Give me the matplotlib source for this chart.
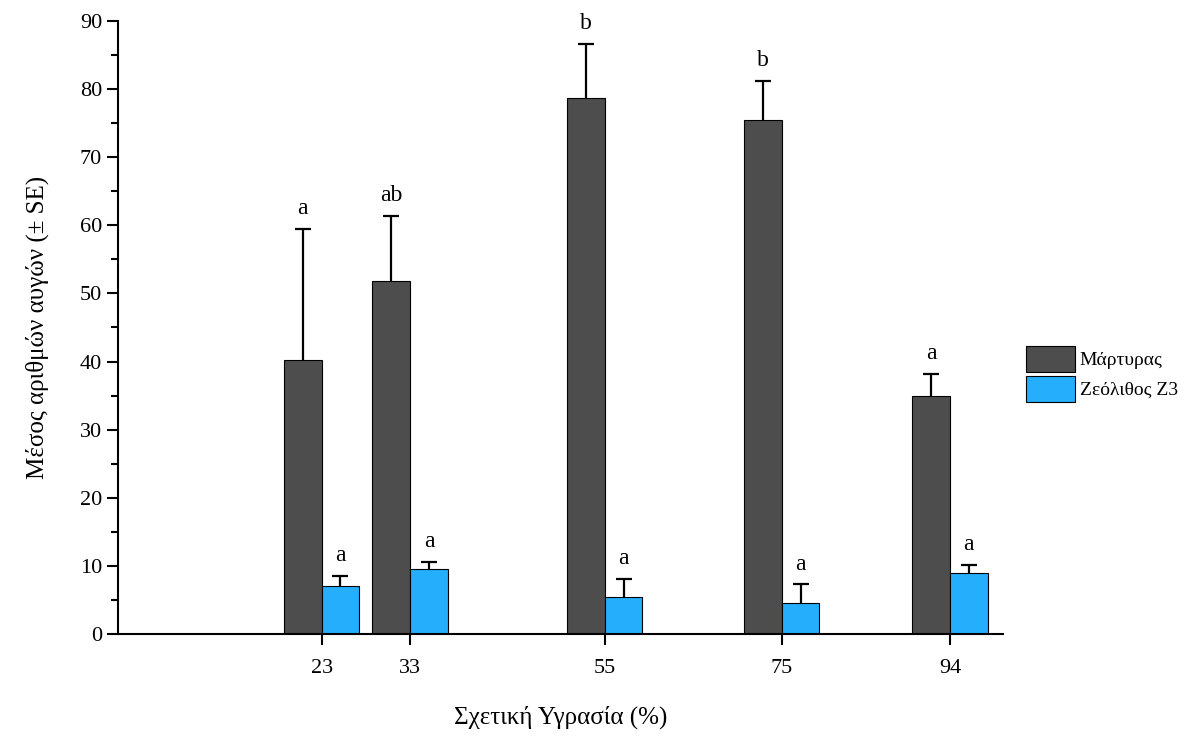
import matplotlib.pyplot as plt
from matplotlib.ticker import MultipleLocator

plt.rcParams['font.family'] = ['Liberation Serif', 'DejaVu Serif']

# data
humidity = [23, 33, 55, 75, 94]
control_mean = [40.2, 51.8, 78.7, 75.5, 34.9]
control_se = [19.3, 9.6, 7.9, 5.7, 3.3]
zeolite_mean = [7.0, 9.5, 5.4, 4.6, 9.0]
zeolite_se = [1.5, 1.1, 2.7, 2.7, 1.1]
control_letters = ['a', 'ab', 'b', 'b', 'a']
zeolite_letters = ['a', 'a', 'a', 'a', 'a']

width = 4.25

fig = plt.figure(figsize=(11.96, 7.37), dpi=100)
ax = fig.add_axes([0.0987, 0.1398, 0.740, 0.8317])

ax.bar(humidity, control_mean, width=-width, align='edge', color='#4d4d4d',
       edgecolor='black', linewidth=0.8, label='Μάρτυρας', zorder=2)
ax.bar(humidity, zeolite_mean, width=width, align='edge', color='#25aefc',
       edgecolor='black', linewidth=0.8, label='Ζεόλιθος Ζ3', zorder=2)

# upper-only error bars with a single cap
groups = [
    ([x - width / 2 for x in humidity], control_mean, control_se, control_letters),
    ([x + width / 2 for x in humidity], zeolite_mean, zeolite_se, zeolite_letters),
]
for xs, means, ses, letters in groups:
    tops = [m + s for m, s in zip(means, ses)]
    ax.vlines(xs, means, tops, color='black', linewidth=1.6, zorder=3)
    ax.plot(xs, tops, ls='none', marker='_', markersize=11, mew=1.6,
            color='black', zorder=3)
    for x, t, lab in zip(xs, tops, letters):
        ax.annotate(lab, (x, t), xytext=(0, 7), textcoords='offset points',
                    ha='center', va='bottom', fontsize=17)

ax.set_xlim(0, 100)
ax.set_ylim(0, 90)
ax.set_xticks(humidity)
ax.yaxis.set_major_locator(MultipleLocator(10))
ax.yaxis.set_minor_locator(MultipleLocator(5))
ax.tick_params(axis='both', which='major', direction='out', length=8, width=1.5,
               labelsize=16)
ax.tick_params(axis='y', which='minor', direction='out', length=5, width=1.5)
ax.tick_params(axis='x', pad=10)
for side in ['top', 'right']:
    ax.spines[side].set_visible(False)
for side in ['left', 'bottom']:
    ax.spines[side].set_linewidth(1.5)

ax.set_xlabel('Σχετική Υγρασία (%)', fontsize=18, labelpad=20)
ax.set_ylabel('Μέσος αριθμών αυγών (± SE)', fontsize=18, labelpad=22)

ax.legend(loc='upper left', bbox_to_anchor=(0.858, 0.531), bbox_transform=fig.transFigure,
          frameon=False, fontsize=14, handlelength=2.5, handleheight=1.67,
          handletextpad=0.25, labelspacing=0.22, borderaxespad=0, borderpad=0)

fig.savefig('out.png', dpi=100)
